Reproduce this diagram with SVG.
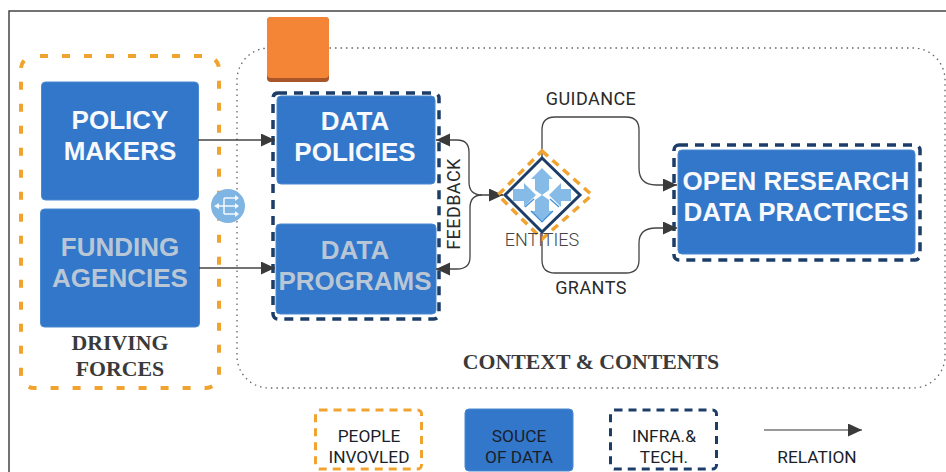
<svg xmlns="http://www.w3.org/2000/svg" width="946" height="472" viewBox="0 0 946 472">
<style>
text{font-family:"Liberation Sans",Arial,sans-serif;text-anchor:middle}
.box{fill:#3277c9;stroke:#4a8ad0;stroke-width:1}
.big{font-size:26px;font-weight:700;fill:#f7f9fc}
.grey{fill:#b9c6d6}
.org{fill:none;stroke:#f0a32f;stroke-width:4;stroke-dasharray:8 14}
.navy{fill:none;stroke:#1c3d68;stroke-width:3.5;stroke-dasharray:9 7}
.small{fill:none;stroke-width:3;stroke-dasharray:8 6}
.lab{font-size:18px;fill:#2a2a2a;font-family:Roboto,"Liberation Sans",sans-serif;letter-spacing:.45px}
.leg{font-size:17.300px;fill:#1a1f2a;font-family:Roboto,"Liberation Sans",sans-serif}
.ent{font-size:18px;fill:#444;font-family:Roboto,"Liberation Sans",sans-serif;font-weight:300}
.serif{font-family:"Liberation Serif",serif;font-weight:700;font-size:21.800px;fill:#3a3a3a}
.c{fill:none;stroke:#444;stroke-width:1.3}
.ar{fill:#3a3a3a}
</style>
<defs>
<marker id="a" markerUnits="userSpaceOnUse" markerWidth="15" markerHeight="14" refX="14" refY="6.500" orient="auto-start-reverse"><path d="M0 0L14 6.500L0 13Z" class="ar"/></marker>
</defs>
<rect width="946" height="472" fill="#fff"/>
<path d="M9 472V11H946" fill="none" stroke="#444" stroke-width="1.500"/>
<g id="context"><rect x="237" y="48" width="708" height="340" rx="32" fill="none" stroke="#666" stroke-width="1.300" stroke-dasharray="1.500 4"/>
<text x="591" y="369" class="serif">CONTEXT &amp; CONTENTS</text></g>
<g id="driving-forces"><rect x="21" y="56" width="198" height="332" rx="13" class="org" stroke-dashoffset="-6"/>
<text x="120" y="350" class="serif">DRIVING</text><text x="120" y="376" class="serif">FORCES</text></g>
<g id="orange-square"><rect x="267" y="17" width="62" height="65" rx="4" fill="#a9552a"/><rect x="267" y="17" width="62" height="61" rx="4" fill="#f58536"/></g>
<g id="policy-makers"><rect x="41.500" y="82" width="157" height="118" rx="4" class="box"/><text x="120" y="129" class="big">POLICY</text><text x="120" y="160" class="big">MAKERS</text></g>
<g id="funding-agencies"><rect x="40.500" y="209" width="159" height="118" rx="4" class="box"/><text x="120" y="256" class="big grey">FUNDING</text><text x="120" y="287" class="big grey">AGENCIES</text></g>
<g id="infra-group"><rect x="273" y="93" width="166" height="226" rx="5" class="navy"/></g>
<g id="data-policies"><rect x="277" y="96" width="158" height="88" rx="4" class="box"/><text x="355" y="130" class="big">DATA</text><text x="355" y="161" class="big">POLICIES</text></g>
<g id="data-programs"><rect x="276" y="224" width="160" height="90" rx="4" class="box"/><text x="355" y="259" class="big grey">DATA</text><text x="355" y="290" class="big grey">PROGRAMS</text></g>
<g id="open-research"><rect x="674" y="145" width="246" height="115" rx="5" class="navy"/><rect x="678" y="150" width="237" height="104" rx="4" class="box"/><text x="796" y="190" class="big">OPEN RESEARCH</text><text x="796" y="221" class="big">DATA PRACTICES</text></g>
<g id="connectors">
<path d="M198 140H275" class="c" marker-end="url(#a)"/>
<path d="M199 268H275" class="c" marker-end="url(#a)"/>
<path d="M436 140H457Q469 140 469 152V182Q469 195 482 195H503" class="c" marker-start="url(#a)" marker-end="url(#a)"/>
<path d="M436 269H457Q470 269 470 257V208Q470 195 482 195" class="c" marker-start="url(#a)"/>
<path d="M542 157V130Q542 117 555 117H626Q639 117 639 130V168Q639 185 656 185H677" class="c" marker-end="url(#a)"/>
<path d="M542 232V260Q542 273 555 273H626Q639 273 639 260V243Q639 228 656 228H677" class="c" marker-end="url(#a)"/>
</g>
<g id="entities">
<path d="M542 151L592 195L542 239L498 195Z" fill="none" stroke="#f0a32f" stroke-width="3.500" stroke-dasharray="8 6"/>
<path d="M542 158L580 195L542 232L505 195Z" fill="#fff" stroke="#1c3d68" stroke-width="3"/>
<g fill="#85bbe6"><path d="M542 168L553 179H549V190L542 195L535 190V179H531Z"/><path d="M542 222L553 211H549V200L542 195L535 200V211H531Z"/><path d="M513 189H524V183L536 195L524 207V201H513Z"/><path d="M571 189H561V183L549 195L561 207V201H571Z"/></g>
<path d="M525 207L534 199M559 207L550 199M531 211L542 222L553 211" fill="none" stroke="#3f8fd6" stroke-width="1.200"/>
<text x="542" y="246" class="ent">ENTITIES</text></g>
<g id="connector-labels">
<text x="591" y="105" class="lab">GUIDANCE</text><text x="591" y="294" class="lab">GRANTS</text>
<text transform="translate(460 204) rotate(-90)" class="lab">FEEDBACK</text></g>
<g id="router"><circle cx="228" cy="206" r="17" fill="#7fb5e3"/><path d="M216 206H238M224 198V214M224 198H237M224 214H237" fill="none" stroke="#f4f8fc" stroke-width="1.500"/><path d="M214 206L219 203V209ZM239 198L235 195V201ZM239 206L235 203V209ZM239 214L235 211V217Z" fill="#f4f8fc"/></g>
<g id="legend">
<g id="legend-people"><rect x="315.500" y="410" width="106" height="59" rx="4" class="small" stroke="#f0a32f"/><text x="369" y="442" class="leg">PEOPLE</text><text x="369" y="463" class="leg">INVOVLED</text></g>
<g id="legend-source"><rect x="465" y="409" width="108" height="62" rx="4" class="box"/><text x="519" y="442" class="leg">SOUCE</text><text x="519" y="463" class="leg">OF DATA</text></g>
<g id="legend-infra"><rect x="610.500" y="410" width="106" height="59" rx="4" class="small" stroke="#1c3d68"/><text x="664" y="442" class="leg">INFRA.&amp;</text><text x="664" y="463" class="leg">TECH.</text></g>
<g id="legend-relation"><path d="M764 430H862" fill="none" stroke="#777" stroke-width="1.300" marker-end="url(#a)"/><text x="817" y="463" class="leg">RELATION</text></g>
</g>
</svg>
